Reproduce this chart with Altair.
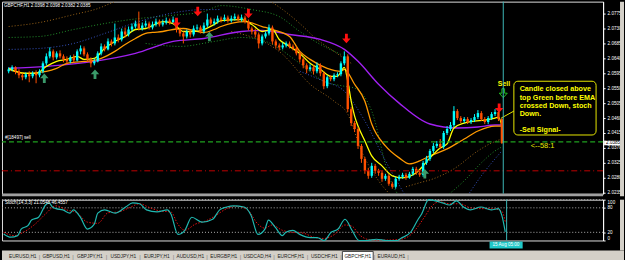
import altair as alt
import pandas as pd

FONT = "Liberation Sans"

opens = [2.0601,2.0607,2.0613,2.0601,2.0589,2.0583,2.0592,2.0586,2.0595,2.0589,
 2.0601,2.0625,2.0646,2.0661,2.0643,2.0655,2.0646,2.0637,2.0631,2.0643,
 2.0634,2.0661,2.0670,2.0652,2.0637,2.0625,2.0631,2.0655,2.0676,2.0667,
 2.0691,2.0685,2.0703,2.0697,2.0721,2.0712,2.0727,2.0736,2.0745,2.0730,
 2.0739,2.0745,2.0733,2.0742,2.0751,2.0742,2.0748,2.0754,2.0748,2.0757,
 2.0727,2.0715,2.0706,2.0721,2.0712,2.0730,2.0733,2.0721,2.0739,2.0757,
 2.0745,2.0751,2.0760,2.0757,2.0763,2.0754,2.0760,2.0766,2.0757,2.0763,
 2.0751,2.0730,2.0721,2.0712,2.0685,2.0706,2.0715,2.0733,2.0691,2.0679,
 2.0673,2.0679,2.0685,2.0676,2.0670,2.0655,2.0637,2.0619,2.0607,2.0613,
 2.0601,2.0619,2.0595,2.0556,2.0583,2.0577,2.0589,2.0592,2.0625,2.0646,
 2.0487,2.0445,2.0427,2.0376,2.0337,2.0301,2.0286,2.0316,2.0301,2.0295,
 2.0277,2.0286,2.0262,2.0253,2.0277,2.0283,2.0289,2.0280,2.0292,2.0307,
 2.0295,2.0289,2.0325,2.0337,2.0361,2.0376,2.0382,2.0373,2.0415,2.0427,
 2.0439,2.0481,2.0460,2.0451,2.0457,2.0448,2.0454,2.0463,2.0475,2.0457,
 2.0448,2.0460,2.0472,2.0478,2.0457]
closes = [2.0607,2.0613,2.0601,2.0589,2.0583,2.0592,2.0586,2.0595,2.0589,2.0601,
 2.0625,2.0646,2.0661,2.0643,2.0655,2.0646,2.0637,2.0631,2.0643,2.0634,
 2.0661,2.0670,2.0652,2.0637,2.0625,2.0631,2.0655,2.0676,2.0667,2.0691,
 2.0685,2.0703,2.0697,2.0721,2.0712,2.0727,2.0736,2.0745,2.0730,2.0739,
 2.0745,2.0733,2.0742,2.0751,2.0742,2.0748,2.0754,2.0748,2.0757,2.0727,
 2.0715,2.0706,2.0721,2.0712,2.0730,2.0733,2.0721,2.0739,2.0757,2.0745,
 2.0751,2.0760,2.0757,2.0763,2.0754,2.0760,2.0766,2.0757,2.0763,2.0751,
 2.0730,2.0721,2.0712,2.0685,2.0706,2.0715,2.0733,2.0691,2.0679,2.0673,
 2.0679,2.0685,2.0676,2.0670,2.0655,2.0637,2.0619,2.0607,2.0613,2.0601,
 2.0619,2.0595,2.0556,2.0583,2.0577,2.0589,2.0592,2.0625,2.0646,2.0487,
 2.0445,2.0427,2.0376,2.0337,2.0301,2.0286,2.0316,2.0301,2.0295,2.0277,
 2.0286,2.0262,2.0253,2.0277,2.0283,2.0289,2.0280,2.0292,2.0307,2.0295,
 2.0289,2.0325,2.0337,2.0361,2.0376,2.0382,2.0373,2.0415,2.0427,2.0439,
 2.0481,2.0460,2.0451,2.0457,2.0448,2.0454,2.0463,2.0475,2.0457,2.0448,
 2.0460,2.0472,2.0478,2.0457,2.0385]
highs = [2.0613,2.0619,2.0616,2.0607,2.0595,2.0598,2.0601,2.0601,2.0604,2.0607,
 2.0631,2.0655,2.0673,2.0667,2.0661,2.0664,2.0652,2.0646,2.0649,2.0652,
 2.0667,2.0679,2.0676,2.0658,2.0643,2.0640,2.0661,2.0685,2.0682,2.0700,
 2.0697,2.0745,2.0712,2.0730,2.0733,2.0736,2.0745,2.0754,2.0781,2.0748,
 2.0754,2.0751,2.0751,2.0760,2.0757,2.0757,2.0763,2.0760,2.0766,2.0760,
 2.0733,2.0721,2.0727,2.0727,2.0739,2.0742,2.0739,2.0748,2.0775,2.0763,
 2.0760,2.0769,2.0766,2.0772,2.0769,2.0769,2.0775,2.0772,2.0772,2.0769,
 2.0757,2.0736,2.0730,2.0718,2.0712,2.0721,2.0742,2.0739,2.0697,2.0685,
 2.0688,2.0691,2.0691,2.0682,2.0676,2.0661,2.0643,2.0625,2.0622,2.0619,
 2.0628,2.0625,2.0601,2.0589,2.0589,2.0595,2.0598,2.0631,2.0661,2.0652,
 2.0493,2.0451,2.0433,2.0382,2.0343,2.0310,2.0325,2.0322,2.0307,2.0301,
 2.0292,2.0292,2.0268,2.0283,2.0289,2.0295,2.0295,2.0298,2.0313,2.0313,
 2.0304,2.0331,2.0346,2.0367,2.0385,2.0391,2.0397,2.0421,2.0436,2.0448,
 2.0496,2.0487,2.0466,2.0463,2.0463,2.0460,2.0472,2.0484,2.0481,2.0463,
 2.0466,2.0478,2.0487,2.0484,2.0460]
lows = [2.0595,2.0601,2.0592,2.0580,2.0574,2.0577,2.0568,2.0580,2.0565,2.0583,
 2.0595,2.0619,2.0640,2.0634,2.0637,2.0640,2.0628,2.0622,2.0625,2.0628,
 2.0631,2.0652,2.0646,2.0628,2.0613,2.0619,2.0628,2.0649,2.0661,2.0664,
 2.0676,2.0679,2.0688,2.0691,2.0703,2.0706,2.0721,2.0730,2.0724,2.0724,
 2.0733,2.0727,2.0727,2.0736,2.0736,2.0736,2.0742,2.0742,2.0745,2.0718,
 2.0706,2.0685,2.0700,2.0703,2.0706,2.0724,2.0715,2.0715,2.0733,2.0739,
 2.0739,2.0745,2.0748,2.0751,2.0748,2.0748,2.0754,2.0751,2.0751,2.0745,
 2.0724,2.0712,2.0703,2.0670,2.0679,2.0700,2.0709,2.0682,2.0670,2.0664,
 2.0667,2.0673,2.0670,2.0664,2.0649,2.0628,2.0610,2.0595,2.0601,2.0592,
 2.0595,2.0586,2.0547,2.0550,2.0571,2.0571,2.0583,2.0586,2.0619,2.0478,
 2.0436,2.0418,2.0367,2.0325,2.0292,2.0277,2.0280,2.0292,2.0286,2.0268,
 2.0271,2.0256,2.0247,2.0247,2.0271,2.0277,2.0274,2.0277,2.0286,2.0289,
 2.0283,2.0283,2.0319,2.0331,2.0355,2.0370,2.0367,2.0367,2.0409,2.0421,
 2.0433,2.0454,2.0445,2.0445,2.0442,2.0442,2.0448,2.0457,2.0451,2.0442,
 2.0442,2.0454,2.0466,2.0451,2.0382]

# fast EMA (yellow)
yel_i = [0,2,5,8,11,14,17,20,22,25,28,31,34,37,40,42,45,48,51,54,57,60,62,68,71,74,77,79,82,85,
         88,91,94,96,98,99,100,101,102,104,106,109,112,115,119,121,123,126,128,130,133,136,139,142,143,144]
yel_p = [2.0610,2.0601,2.0595,2.0595,2.0616,2.0631,2.0637,2.0646,2.0637,2.0640,2.0670,2.0691,2.0706,2.0727,
         2.0730,2.0739,2.0751,2.0745,2.0721,2.0721,2.0727,2.0742,2.0754,2.0757,2.0742,2.0721,2.0727,2.0697,
         2.0676,2.0655,2.0625,2.0607,2.0586,2.0586,2.0613,2.0571,2.0511,2.0466,2.0436,2.0391,2.0346,2.0316,
         2.0286,2.0280,2.0295,2.0316,2.0340,2.0370,2.0382,2.0430,2.0445,2.0451,2.0454,2.0460,2.0463,2.0436]
# slow EMA (orange)
org_i = [0,5,11,14,17,22,25,27,31,34,37,40,42,45,48,51,54,57,60,62,69,74,77,82,85,88,93,97,98,101,
         104,106,110,114,117,120,123,128,133,137,142,144]
org_p = [2.0607,2.0595,2.0601,2.0610,2.0625,2.0631,2.0634,2.0640,2.0661,2.0682,2.0700,2.0715,2.0718,2.0721,
         2.0727,2.0730,2.0724,2.0718,2.0727,2.0736,2.0751,2.0736,2.0727,2.0706,2.0661,2.0637,2.0610,2.0601,
         2.0607,2.0562,2.0511,2.0442,2.0376,2.0340,2.0322,2.0331,2.0346,2.0367,2.0397,2.0421,2.0436,2.0436]
# long MA (purple)
pur_i = [0,11,25,37,48,57,68,74,82,91,98,102,108,114,123,131,137,142,144]
pur_p = [2.0610,2.0616,2.0631,2.0655,2.0691,2.0700,2.0721,2.0724,2.0712,2.0697,2.0667,2.0631,2.0562,
         2.0505,2.0442,2.0430,2.0433,2.0439,2.0439]

# envelope bands (dotted): name, colour, bar indices, prices
BROWN, GREEN, BLUE = "#9a6418", "#22902a", "#3552c0"
bands = [
    ("brown_up", BROWN, [0,9,19,26,31,45,68,75,80,85,90,95,100],
     [2.0736,2.0748,2.0772,2.0790,2.0811,2.0847,2.0847,2.0820,2.0787,2.0745,2.0697,2.0661,2.0625]),
    ("green_up", GREEN, [0,9,19,28,38,47,57,62,71,79,85,91,97],
     [2.0703,2.0706,2.0727,2.0745,2.0760,2.0769,2.0781,2.0799,2.0787,2.0766,2.0721,2.0682,2.0652]),
    ("blue_up", BLUE, [0,9,19,28,38,47,57,62],
     [2.0667,2.0670,2.0685,2.0715,2.0751,2.0775,2.0787,2.0787]),
    ("brown_dn", BROWN, [65,80,88,95,99,103,108,112],
     [2.0721,2.0652,2.0562,2.0511,2.0472,2.0361,2.0271,2.0223]),
    ("brown_dn2", BROWN, [116,120,124,130,137,141,144],
     [2.0253,2.0265,2.0277,2.0307,2.0361,2.0385,2.0397]),
    ("green_dn", GREEN, [40,50,60,68,75,85,92,98,101,106,111,114],
     [2.0685,2.0676,2.0691,2.0703,2.0691,2.0625,2.0571,2.0556,2.0550,2.0481,2.0286,2.0223]),
    ("green_dn2", GREEN, [128,133,138,142,144],
     [2.0226,2.0271,2.0325,2.0361,2.0373]),
    ("blue_dn", BLUE, [85,92,98,104,110,116],
     [2.0601,2.0571,2.0541,2.0451,2.0331,2.0223]),
    ("blue_dn2", BLUE, [134,138,142,144],
     [2.0226,2.0286,2.0337,2.0361]),
]

# stochastic
k_i = [0,2,4,5,7,8,10,12,13,14,15,17,19,20,22,24,26,27,29,32,35,37,39,41,44,47,48,50,52,54,
       57,60,62,64,66,69,71,73,75,76,78,80,81,83,85,88,90,92,94,96,98,100,102,104,107,110,113,114,117,119,
       120,122,124,126,128,130,132,134,137,140,142,143,144]
k_v = [16,8,12,28,37,50,57,87,92,82,78,75,67,75,57,28,40,67,75,67,82,92,90,75,70,75,65,15,25,57,
       45,52,75,82,85,82,62,15,28,50,32,12,20,25,15,7,7,0,20,28,52,25,0,0,3,0,0,5,22,52,
       65,100,97,92,87,97,82,75,82,75,78,62,21]
d_i = [0,3,6,9,12,15,18,21,24,27,30,33,36,39,42,45,48,50,52,55,58,61,64,67,70,73,75,77,80,83,
       86,89,92,95,98,100,102,105,110,114,117,119,121,123,125,128,131,134,137,140,143,144]
d_v = [20,12,22,40,65,85,75,68,45,42,68,70,80,90,80,72,70,40,25,40,48,62,78,84,75,40,30,38,25,20,
       18,8,5,15,38,35,15,2,1,3,15,35,60,85,95,90,90,80,78,78,72,46]
stoch_levels = [100, 80, 20]

# signals
up_i = [10.4, 25.2, 58.6, 121.5]
up_p = [2.0580, 2.0592, 2.0706, 2.0292]
dn_i = [49, 55.2, 70, 98.6, 143.2]
dn_p = [2.0748, 2.0781, 2.0775, 2.0700, 2.0490]

price_ticks = [2.0235, 2.0280, 2.0325, 2.0370, 2.0415, 2.0460, 2.0505, 2.0550, 2.0595,
               2.0640, 2.0685, 2.0730, 2.0775]
lab_i = [0,8,16,24,32,40,48,56,64,72,80,88,96,104,112,120,128,136]
lab_t = ["7 Aug 2008","7 Aug 15:00","7 Aug 23:00","8 Aug 07:00","8 Aug 15:00","8 Aug 23:00",
         "11 Aug 08:00","11 Aug 16:00","12 Aug 00:00","12 Aug 08:00","12 Aug 16:00","13 Aug 00:00",
         "13 Aug 08:00","13 Aug 16:00","14 Aug 00:00","14 Aug 08:00","14 Aug 16:00","15 Aug 00:00"]
tabs = ["EURUSD,H1","GBPUSD,H1","GBPJPY,H1","USDJPY,H1","EURJPY,H1","AUDUSD,H1",
        "EURGBP,H1","USDCAD,H4","EURCHF,H1","USDCHF,H1","GBPCHF,H1","EURAUD,H1"]

note_lines = ["Candle closed above", "top Green before EMA", "crossed Down, stoch", "Down.", "-Sell Signal-"]
note_p = [2.0547, 2.0520, 2.0496, 2.0472, 2.0424]

# ---------------------------------------------------------------
W, H1, H2 = 604, 193, 41
xs = alt.Scale(domain=[-0.5, 172.1], nice=False, zero=False)
ys = alt.Scale(domain=[2.0232, 2.0811], nice=False, zero=False)
yaxis = alt.Axis(orient="right", values=price_ticks, format=".4f", labelFontSize=4.6,
                 labelColor="white", tickColor="white", tickSize=2, domainColor="white",
                 labelPadding=2, title=None, grid=False, labelFont=FONT)

def X(f="i"):
    return alt.X(f"{f}:Q", scale=xs, axis=None)

def Y(f="p"):
    return alt.Y(f"{f}:Q", scale=ys, axis=yaxis)

N = len(closes)
cdf = pd.DataFrame({"i": list(range(N)), "o": opens, "h": highs, "l": lows, "c": closes})
up_df = cdf[cdf["c"] >= cdf["o"]]
dn_df = cdf[cdf["c"] < cdf["o"]]
CYAN, ORED = "#00ffff", "#ff5000"

def candles(df, color):
    w = alt.Chart(df).mark_rule(strokeWidth=1, color=color).encode(x=X(), y=Y("l"), y2="h")
    b = alt.Chart(df).mark_bar(size=2.4, color=color).encode(x=X(), y=Y("o"), y2="c")
    return [w, b]

band_layers = []
for name, col, ii, pp in bands:
    band_layers.append(
        alt.Chart(pd.DataFrame({"i": ii, "p": pp})).mark_line(
            strokeDash=[1, 2], strokeWidth=1, clip=True, interpolate="monotone", color=col).encode(
            x=X(), y=Y()))

def line(ii, pp, color, w=1.3):
    return alt.Chart(pd.DataFrame({"i": ii, "p": pp})).mark_line(
        color=color, strokeWidth=w, clip=True, interpolate="monotone").encode(x=X(), y=Y())

purple = line(pur_i, pur_p, "#a020f0", 1.4)
orange = line(org_i, org_p, "#ff9a00", 1.3)
yellow = line(yel_i, yel_p, "#ffff00", 1.3)

green_lvl = alt.Chart(pd.DataFrame({"p": [2.0388]})).mark_rule(
    color="#1fa01f", strokeDash=[5, 3], strokeWidth=1.2).encode(y=Y())
red_lvl = alt.Chart(pd.DataFrame({"p": [2.0301]})).mark_rule(
    color="#c00000", strokeDash=[6, 3, 1, 3], strokeWidth=1).encode(y=Y())

down_path = "M-0.3,-1 L0.3,-1 L0.3,0 L0.9,0 L0,1 L-0.9,0 L-0.3,0 Z"
up_path = "M-0.3,1 L0.3,1 L0.3,0 L0.9,0 L0,-1 L-0.9,0 L-0.3,0 Z"
up_arrows = alt.Chart(pd.DataFrame({"i": up_i, "p": up_p})).mark_point(
    shape=up_path, filled=True, size=90, color="#3a9a6a", opacity=1).encode(x=X(), y=Y())
dn_arrows = alt.Chart(pd.DataFrame({"i": dn_i, "p": dn_p})).mark_point(
    shape=down_path, filled=True, size=90, color="#ff1010", opacity=1).encode(x=X(), y=Y())
sell_arrow = alt.Chart(pd.DataFrame({"i": [144.4], "p": [2.0535]})).mark_point(
    shape=down_path, filled=False, size=80, color="#20c020", strokeWidth=1, opacity=1).encode(x=X(), y=Y())

box = alt.Chart(pd.DataFrame({"x1": [147.5], "x2": [171.5], "p1": [2.0571], "p2": [2.0409]})).mark_rect(
    fill="black", stroke="#e8e800", strokeWidth=1, cornerRadius=4).encode(
    x=X("x1"), x2="x2", y=Y("p1"), y2="p2")
connector = alt.Chart(pd.DataFrame({"x1": [147.5], "x2": [143.8], "p1": [2.0481], "p2": [2.0460]})).mark_rule(
    color="#e8e800", strokeWidth=1).encode(x=X("x1"), x2="x2", y=Y("p1"), y2="p2")
note = alt.Chart(pd.DataFrame({"i": [149.2] * len(note_lines), "p": note_p, "t": note_lines})).mark_text(
    align="left", baseline="middle", font=FONT, fontSize=7.2, fontWeight="bold", color="#ffff00").encode(
    x=X(), y=Y(), text="t:N")
sell_txt = alt.Chart(pd.DataFrame({"i": [144.6], "p": [2.0562], "t": ["Sell"]})).mark_text(
    align="center", baseline="middle", font=FONT, fontSize=7, fontWeight="bold", color="#ffff00").encode(
    x=X(), y=Y(), text="t:N")
ratio_txt = alt.Chart(pd.DataFrame({"i": [152.4], "p": [2.0376], "t": ["<--58:1"]})).mark_text(
    align="left", baseline="middle", font=FONT, fontSize=7.5, color="#e8e800").encode(
    x=X(), y=Y(), text="t:N")
sell_lbl = alt.Chart(pd.DataFrame({"p": [2.0400], "t": ["#[18497] sell"]})).mark_text(
    align="left", baseline="middle", font=FONT, fontSize=4.6, color="white").encode(
    x=alt.value(3), y=Y(), text="t:N")
header = alt.Chart(pd.DataFrame({"t": ["GBPCHF,H1  2.0398 2.0398 2.0382 2.0385"]})).mark_text(
    align="left", baseline="middle", font=FONT, fontSize=4.6, color="white").encode(
    x=alt.value(2), y=alt.value(4), text="t:N")

cross = alt.Chart(pd.DataFrame({"i": [144.4]})).mark_rule(color="#3cb8b8", strokeWidth=1).encode(x=X())

pbox = alt.Chart(pd.DataFrame({"p1": [2.0392], "p2": [2.0378]})).mark_rect(color="white").encode(
    x=alt.value(605), x2=alt.value(621), y=Y("p1"), y2="p2")
ptxt = alt.Chart(pd.DataFrame({"p": [2.0385], "t": ["2.0385"]})).mark_text(
    align="left", baseline="middle", font=FONT, fontSize=4.6, color="black").encode(
    x=alt.value(607), y=Y(), text="t:N")

dummy = pd.DataFrame({"a": [0]})
sep = alt.Chart(dummy).mark_rect(color="#a0a0a0").encode(
    x=alt.value(0), x2=alt.value(604), y=alt.value(193), y2=alt.value(195.5))
edge1 = alt.Chart(dummy).mark_rect(color="#d4d0c8").encode(
    x=alt.value(621), x2=alt.value(625), y=alt.value(0), y2=alt.value(195.5))

main = alt.layer(*band_layers, purple, orange, yellow,
                 *candles(up_df, CYAN), *candles(dn_df, ORED), green_lvl, red_lvl,
                 up_arrows, dn_arrows, sell_arrow, box, connector, note, sell_txt, ratio_txt,
                 sell_lbl, header, cross, pbox, ptxt, sep, edge1).properties(width=W, height=H1)

# ---------------- stochastic panel ----------------
ss = alt.Scale(domain=[0, 100], nice=False, zero=False)
saxis = alt.Axis(orient="right", values=[0, 20, 80, 100], labelFontSize=4.6, labelColor="white",
                 tickColor="white", tickSize=2, domainColor="white", labelPadding=2, title=None,
                 grid=False, labelFont=FONT, labelFlush=True)
label_expr = " : ".join(f"datum.value == {k} ? '{t}'" for k, t in zip(lab_i, lab_t)) + " : ''"
xaxis = alt.Axis(values=lab_i, labelExpr=label_expr, labelAlign="left", labelBaseline="top",
                 labelOffset=1.5, labelPadding=0, labelFontSize=4.6, labelColor="white",
                 tickColor="white", tickSize=3, domainColor="white", title=None, grid=False,
                 labelOverlap=False, labelFlush=False, labelFont=FONT)

def SY(f="v"):
    return alt.Y(f"{f}:Q", scale=ss, axis=saxis)

levels = alt.Chart(pd.DataFrame({"v": stoch_levels})).mark_rule(
    color="#b0b0b0", strokeDash=[1, 2], strokeWidth=1).encode(y=SY())
dline = alt.Chart(pd.DataFrame({"i": d_i, "v": d_v})).mark_line(
    color="#e01010", strokeDash=[1.5, 1.5], strokeWidth=1, interpolate="monotone").encode(
    x=alt.X("i:Q", scale=xs, axis=xaxis), y=SY())
kline = alt.Chart(pd.DataFrame({"i": k_i, "v": k_v})).mark_line(
    color="#20b8b0", strokeWidth=1.2, interpolate="monotone").encode(x=X(), y=SY())
scross = alt.Chart(pd.DataFrame({"i": [144.4]})).mark_rule(color="#3cb8b8", strokeWidth=1).encode(x=X())
slabel = alt.Chart(pd.DataFrame({"t": ["Stoch(14,3,3) 21.0548 46.4557"]})).mark_text(
    align="left", baseline="top", font=FONT, fontSize=4.6, color="white").encode(
    x=alt.value(3), y=alt.value(0.3), text="t:N")
tbox = alt.Chart(pd.DataFrame({"x1": [139.5], "x2": [149.0]})).mark_rect(color="#20c8c8").encode(
    x=X("x1"), x2="x2", y=alt.value(H2 + 1), y2=alt.value(H2 + 8))
ttxt = alt.Chart(pd.DataFrame({"i": [144.2], "t": ["15 Aug 05:00"]})).mark_text(
    align="center", baseline="middle", font=FONT, fontSize=4.6, color="white").encode(
    x=X(), y=alt.value(H2 + 4.5), text="t:N")
edge2 = alt.Chart(dummy).mark_rect(color="#d4d0c8").encode(
    x=alt.value(621), x2=alt.value(625), y=alt.value(0), y2=alt.value(H2 + 10))

stoch_main = alt.layer(levels, dline, kline, scross, slabel, tbox, ttxt, edge2)

tscale = alt.Scale(domain=[-0.5, 11.5], range=[4, 408], nice=False, zero=False)
tdf = pd.DataFrame({"k": list(range(len(tabs))), "tab": tabs})
strip = alt.Chart(dummy).mark_rect(color="#d4d0c8").encode(
    x=alt.value(0), x2=alt.value(625), y=alt.value(H2 + 10), y2=alt.value(H2 + 24.5))
active = alt.Chart(tdf).transform_filter("datum.tab == 'GBPCHF,H1'").transform_calculate(
    k0="datum.k - 0.46", k1="datum.k + 0.46").mark_rect(
    fill="white", stroke="#404040", strokeWidth=1).encode(
    x=alt.X("k0:Q", scale=tscale, axis=None), x2="k1:Q", y=alt.value(H2 + 11), y2=alt.value(H2 + 22.5))
ttabs = alt.Chart(tdf).mark_text(font=FONT, fontSize=4.8, color="#202020", baseline="middle").encode(
    x=alt.X("k:Q", scale=tscale, axis=None), y=alt.value(H2 + 16.5), text="tab:N")
seps = alt.Chart(tdf).transform_calculate(ks="datum.k + 0.5").mark_text(
    font=FONT, fontSize=6, color="#808080", baseline="middle", text="|").encode(
    x=alt.X("ks:Q", scale=tscale, axis=None), y=alt.value(H2 + 16.5))
tabs_layer = alt.layer(strip, active, ttabs, seps)

stoch = alt.layer(stoch_main, tabs_layer).resolve_scale(x="independent").properties(width=W, height=H2)

chart = alt.vconcat(main, stoch, spacing=0).configure_view(strokeWidth=0).configure(
    font=FONT).properties(background="black", padding=0)

chart.save("out.html", embed_options={"renderer": "svg", "actions": False})
